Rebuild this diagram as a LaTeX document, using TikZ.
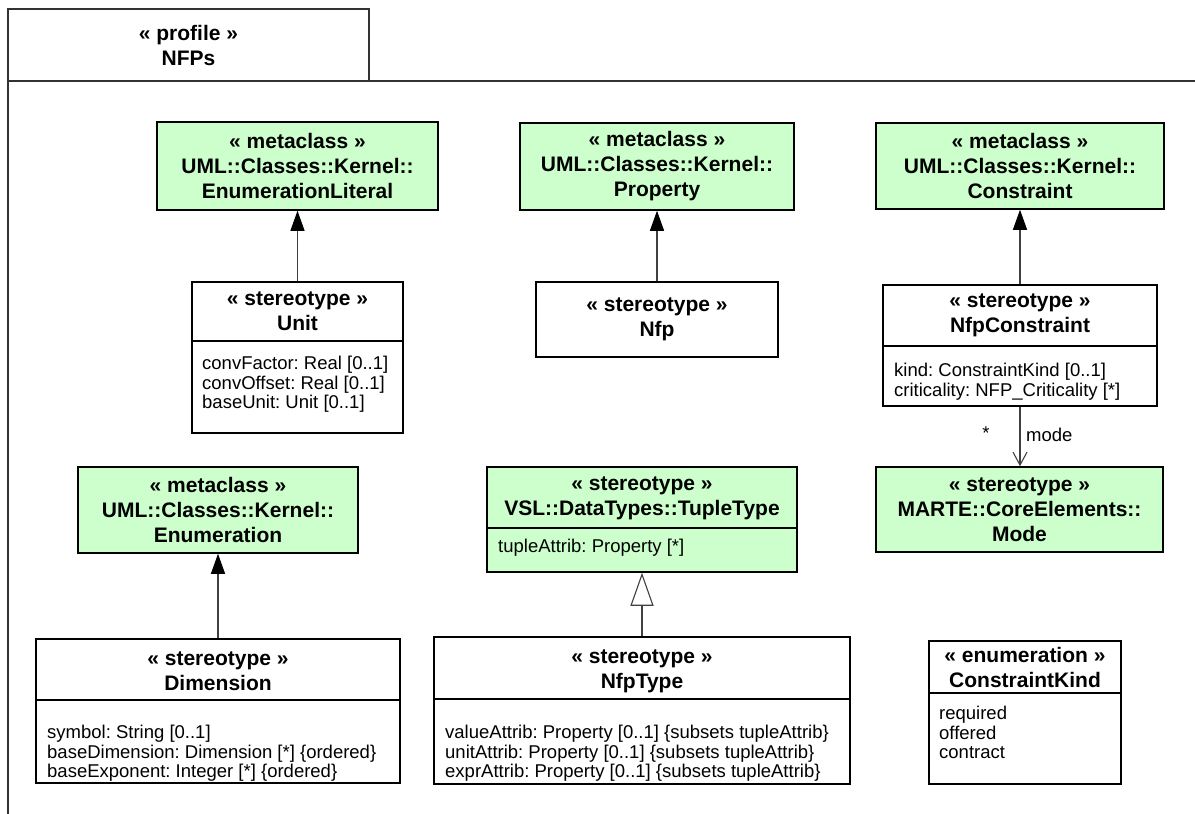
\documentclass[tikz,border=0pt]{standalone}
\usepackage{fontspec}
\setmainfont{Liberation Sans}
\usetikzlibrary{arrows.meta}
\definecolor{mgreen}{HTML}{CCFFCC}
\definecolor{framec}{HTML}{333333}
\definecolor{linec}{HTML}{404040}
\newcommand\hdrfont{\fontsize{21}{25}\selectfont\bfseries}
\newcommand\attfont{\fontsize{18.5}{19.5}\selectfont}
\frenchspacing
\begin{document}
\begin{tikzpicture}[x=1pt,y=-1pt,
  umlbox/.style={draw=black, line width=1.5pt, inner sep=0pt, align=center, font=\hdrfont},
  greenbox/.style={umlbox, fill=mgreen},
  hdr/.style={align=center, font=\hdrfont, inner sep=0pt},
  attr/.style={anchor=north west, align=left, font=\attfont, inner sep=0pt},
  divl/.style={draw=black, line width=1.2pt},
  framel/.style={draw=framec, line width=1.4pt},
  ext/.style={draw=linec, line width=1.1pt, -{Triangle[width=14pt,length=20pt,black]}},
  gen/.style={draw=linec, line width=1.1pt, -{Triangle[open,width=23pt,length=33pt,fill=white]}},
  assoc/.style={draw=linec, line width=1.1pt, -{Straight Barb[width=14pt,length=13pt]}},
  lbl/.style={font=\attfont, inner sep=0pt}
]
\useasboundingbox (0,0) rectangle (1195,814);
% frame
\draw[framel] (8,814) -- (8,81) -- (1195,81);
\node[draw=framec, line width=1.4pt, inner sep=0pt, minimum width=361pt, minimum height=72pt, align=center, font=\hdrfont] (tab) at (188.5,45) {« profile »\\NFPs};

% metaclasses
\node[greenbox, minimum width=281pt, minimum height=88pt] (elit) at (297.5,166) {« metaclass »\\UML::Classes::Kernel::\\EnumerationLiteral};
\node[greenbox, minimum width=274pt, minimum height=87pt] (prop) at (657,166.5) {« metaclass »\\UML::Classes::Kernel::\\Property};
\node[greenbox, minimum width=288pt, minimum height=86pt] (cons) at (1020,166) {« metaclass »\\UML::Classes::Kernel::\\Constraint};
\node[greenbox, minimum width=280pt, minimum height=86pt] (enum) at (218,510) {« metaclass »\\UML::Classes::Kernel::\\Enumeration};
\node[greenbox, minimum width=287pt, minimum height=85pt] (mode) at (1019.5,509.5) {« stereotype »\\MARTE::CoreElements::\\Mode};

% Unit
\node[umlbox, minimum width=211pt, minimum height=151pt] (unit) at (297.5,357.5) {};
\node[hdr] (unitH) at (297.5,311.5) {« stereotype »\\Unit};
\draw[divl] (unit.west |- 0,341) -- (unit.east |- 0,341);
\node[attr] (unitA) at (202,356) {convFactor: Real [0..1]\\convOffset: Real [0..1]\\baseUnit: Unit [0..1]};

% Nfp
\node[umlbox, minimum width=242pt, minimum height=75pt] (nfp) at (657,319.5) {« stereotype »\\Nfp};

% NfpConstraint
\node[umlbox, minimum width=274pt, minimum height=121pt] (nfpc) at (1020,345.5) {};
\node[hdr] (nfpcH) at (1020,315.5) {« stereotype »\\NfpConstraint};
\draw[divl] (nfpc.west |- 0,346) -- (nfpc.east |- 0,346);
\node[attr] (nfpcA) at (894,363) {kind: ConstraintKind [0..1]\\criticality: NFP\_Criticality [*]};

% TupleType
\node[greenbox, minimum width=310pt, minimum height=105pt] (tuple) at (642,519.5) {};
\node[hdr] (tupleH) at (642,498.5) {« stereotype »\\VSL::DataTypes::TupleType};
\draw[divl] (tuple.west |- 0,528) -- (tuple.east |- 0,528);
\node[attr] (tupleA) at (498,539) {tupleAttrib: Property [*]};

% Dimension
\node[umlbox, minimum width=364pt, minimum height=144pt] (dim) at (218,711) {};
\node[hdr] (dimH) at (218,671.5) {« stereotype »\\Dimension};
\draw[divl] (dim.west |- 0,700) -- (dim.east |- 0,700);
\node[attr] (dimA) at (47,725) {symbol: String [0..1]\\baseDimension: Dimension [*] \{ordered\}\\baseExponent: Integer [*] \{ordered\}};

% NfpType
\node[umlbox, minimum width=416pt, minimum height=147pt] (nfpt) at (642,710.5) {};
\node[hdr] (nfptH) at (642,671.5) {« stereotype »\\NfpType};
\draw[divl] (nfpt.west |- 0,699) -- (nfpt.east |- 0,699);
\node[attr] (nfptA) at (445,725) {valueAttrib: Property [0..1] \{subsets tupleAttrib\}\\unitAttrib: Property [0..1] \{subsets tupleAttrib\}\\exprAttrib: Property [0..1] \{subsets tupleAttrib\}};

% ConstraintKind
\node[umlbox, minimum width=192pt, minimum height=143pt] (ckind) at (1025,712.5) {};
\node[hdr] (ckindH) at (1025,667) {« enumeration »\\ConstraintKind};
\draw[divl] (ckind.west |- 0,693) -- (ckind.east |- 0,693);
\node[attr] (ckindA) at (939,706) {required\\offered\\contract};

% connectors
\draw[ext] (unit.north) -- (elit.south);
\draw[ext] (nfp.north) -- (prop.south);
\draw[ext] (nfpc.north) -- (cons.south);
\draw[ext] (dim.north) -- (enum.south);
\draw[gen] (nfpt.north) -- (tuple.south);
\draw[assoc] (nfpc.south) -- (nfpc.south |- mode.north);
\node[lbl] (mult) at (986,433) {*};
\node[lbl, anchor=west] (rolename) at (1026,435) {mode};
\end{tikzpicture}
\end{document}
